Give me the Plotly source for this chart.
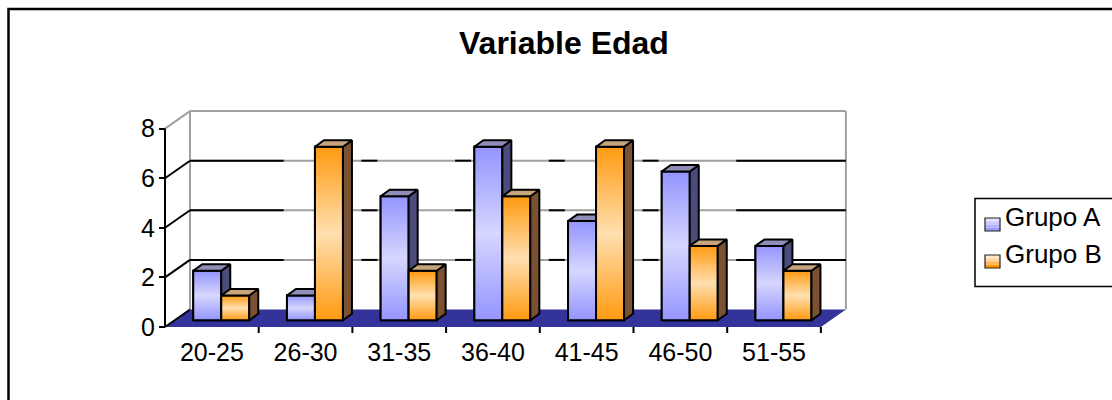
import plotly.graph_objects as go

# ---------------- data ----------------
categories = ["20-25", "26-30", "31-35", "36-40", "41-45", "46-50", "51-55"]
grupo_a = [2, 1, 5, 7, 4, 6, 3]
grupo_b = [1, 7, 2, 5, 7, 3, 2]
series_names = ["Grupo A", "Grupo B"]
y_tick_values = [0, 2, 4, 6, 8]
title_text = "Variable Edad"

# ---------------- geometry (pixels -> axis units) ----------------
W, H = 1112, 400
L, R, T, B = 150, 860, 100, 345          # plot area in pixels
X_FRONT = 165                             # front-left corner of the floor (px)
Y_ZERO = 327                              # front floor line (px)
CW = 93.7                                 # px per category
U = 24.8                                  # px per value unit
xmin = -0.5 - (X_FRONT - L) / CW
xmax = -0.5 + (R - X_FRONT) / CW
ymin = -(B - Y_ZERO) / U
ymax = (Y_ZERO - T) / U
DX, DY = 25 / CW, 17.5 / U                # wall depth
BDX, BDY = 9 / CW, 6.5 / U                # bar depth
BASE = 6.7 / U                            # bar base height (bars sit mid-depth)
SHIFT = 9.4 / CW
BW = 28 / CW
YMAX_WALL = max(y_tick_values)
n = len(categories)

FONT = "Liberation Sans, Arial, sans-serif"
COL = {
    "Grupo A": dict(bar="#A8A8FF", grad=[[0, "#9494FF"], [0.5, "#D6D6FF"], [1, "#9494FF"]],
                    side="#4B4B7C", top="#8E8EB8",
                    legend=["#E2E2FF", "#CACAFF", "#B2B2FF", "#9999FF"]),
    "Grupo B": dict(bar="#FFB040", grad=[[0, "#FF9A10"], [0.5, "#FFDFB0"], [1, "#FF9A10"]],
                    side="#7A5233", top="#C6A47C",
                    legend=["#FFE8C8", "#FFD29E", "#FFB75E", "#FF9900"]),
}


def px_x(p):
    return (p - L) / (R - L)


def px_y(p):
    return (B - p) / (B - T)


fig = go.Figure()

# solid bar traces (front faces), drawn through the axes
for name, vals, off in [("Grupo A", grupo_a, -BW + SHIFT), ("Grupo B", grupo_b, SHIFT)]:
    fig.add_trace(go.Bar(
        name=name, x=list(range(n)), y=vals, base=BASE, offset=off, width=BW,
        marker=dict(color=COL[name]["bar"], line=dict(color="black", width=2)),
        showlegend=False, hoverinfo="skip"))

# 3D faces with gradients
for i in range(n):
    for name, vals, off in [("Grupo A", grupo_a, -BW + SHIFT), ("Grupo B", grupo_b, SHIFT)]:
        v = vals[i]
        x0 = i + off
        x1 = x0 + BW
        top = BASE + v
        c = COL[name]
        # front
        fig.add_trace(go.Scatter(
            x=[x0, x1, x1, x0, x0], y=[BASE, BASE, top, top, BASE], mode="lines",
            fill="toself", fillgradient=dict(type="vertical", colorscale=c["grad"]),
            line=dict(color="black", width=2), showlegend=False, hoverinfo="skip"))
        # side
        fig.add_trace(go.Scatter(
            x=[x1, x1 + BDX, x1 + BDX, x1, x1], y=[BASE, BASE + BDY, top + BDY, top, BASE],
            mode="lines", fill="toself", fillcolor=c["side"],
            line=dict(color="black", width=2), showlegend=False, hoverinfo="skip"))
        # top
        fig.add_trace(go.Scatter(
            x=[x0, x0 + BDX, x1 + BDX, x1, x0], y=[top, top + BDY, top + BDY, top, top],
            mode="lines", fill="toself", fillcolor=c["top"],
            line=dict(color="black", width=2), showlegend=False, hoverinfo="skip"))

shapes = []
xl, xr = -0.5, n - 0.5
# floor
shapes.append(dict(type="path", xref="x", yref="y", layer="below",
                   path=f"M{xl},0 L{xr},0 L{xr+DX},{DY} L{xl+DX},{DY} Z",
                   fillcolor="#333399", line=dict(width=0)))
# back wall edges
grey = "#A0A0A0"
shapes.append(dict(type="line", xref="x", yref="y", layer="below", x0=xl + DX, x1=xl + DX,
                   y0=DY, y1=YMAX_WALL + DY, line=dict(color=grey, width=2)))
shapes.append(dict(type="line", xref="x", yref="y", layer="below", x0=xr + DX, x1=xr + DX,
                   y0=DY, y1=YMAX_WALL + DY, line=dict(color=grey, width=2)))
shapes.append(dict(type="line", xref="x", yref="y", layer="below", x0=xl + DX, x1=xr + DX,
                   y0=YMAX_WALL + DY, y1=YMAX_WALL + DY, line=dict(color=grey, width=2)))
# gridlines on back wall (grey with black segments, like the original rendering)
blk = [(-0.5, 0.5)] + [(k + 0.5 - 16 / CW, k + 0.5) for k in range(1, n - 2)] + [(n - 1.5 - 16 / CW, n - 0.5)]
for v in y_tick_values[1:-1]:
    shapes.append(dict(type="line", xref="x", yref="y", layer="below", x0=xl + DX, x1=xr + DX,
                       y0=v + DY, y1=v + DY, line=dict(color=grey, width=2)))
    for a, b in blk:
        shapes.append(dict(type="line", xref="x", yref="y", layer="below", x0=a + DX, x1=b + DX,
                           y0=v + DY, y1=v + DY, line=dict(color="black", width=2)))
# left side wall diagonals and front axis
for v in y_tick_values:
    shapes.append(dict(type="line", xref="x", yref="y", layer="below", x0=xl, x1=xl + DX,
                       y0=v, y1=v + DY,
                       line=dict(color=grey if v == YMAX_WALL else "black", width=2)))
shapes.append(dict(type="line", xref="x", yref="y", layer="below", x0=xl, x1=xl,
                   y0=0, y1=YMAX_WALL, line=dict(color="black", width=2)))
# category boundary ticks on the front edge
for k in range(1, n + 1):
    shapes.append(dict(type="line", xref="x", yref="y", x0=k - 0.5, x1=k - 0.5,
                       y0=0, y1=-6 / U, line=dict(color="black", width=2)))
# outer frame
shapes.append(dict(type="rect", xref="paper", yref="paper",
                   x0=px_x(8.5), x1=px_x(W + 20), y0=px_y(9), y1=px_y(H + 20),
                   line=dict(color="black", width=2.5), fillcolor="rgba(0,0,0,0)"))
# legend box
shapes.append(dict(type="rect", xref="paper", yref="paper",
                   x0=px_x(975), x1=px_x(W + 20), y0=px_y(198.5), y1=px_y(286.5),
                   line=dict(color="black", width=1.5), fillcolor="white"))
annotations = []
for j, name in enumerate(series_names):
    yc = 224.5 + j * 37
    stripes = COL[name]["legend"]
    sh = 13 / len(stripes)
    for s, colr in enumerate(stripes):
        shapes.append(dict(type="rect", xref="paper", yref="paper",
                           x0=px_x(985), x1=px_x(1000),
                           y0=px_y(yc - 6.5 + s * sh), y1=px_y(yc - 6.5 + (s + 1) * sh),
                           line=dict(width=0), fillcolor=colr))
    shapes.append(dict(type="rect", xref="paper", yref="paper",
                       x0=px_x(985), x1=px_x(1000), y0=px_y(yc - 6.5), y1=px_y(yc + 6.5),
                       line=dict(color="#222222", width=1.2), fillcolor="rgba(0,0,0,0)"))
    annotations.append(dict(xref="paper", yref="paper", x=px_x(1003), y=px_y(yc - 7.5),
                            xanchor="left", yanchor="middle", showarrow=False, text=name,
                            font=dict(family=FONT, size=26, color="black")))

annotations.append(dict(xref="paper", yref="paper", x=px_x(564), y=px_y(43),
                        xanchor="center", yanchor="middle", showarrow=False,
                        text=f"<b>{title_text}</b>",
                        font=dict(family=FONT, size=32, color="black")))

fig.update_layout(
    width=W, height=H, autosize=False,
    margin=dict(l=L, r=W - R, t=T, b=H - B, pad=0),
    paper_bgcolor="white", plot_bgcolor="white",
    barmode="overlay", showlegend=False,
    shapes=shapes, annotations=annotations,
    xaxis=dict(range=[xmin, xmax], tickvals=list(range(n)), ticktext=categories,
               showgrid=False, zeroline=False, showline=False, ticks="",
               anchor="free", position=px_y(Y_ZERO), ticklabelstandoff=8,
               tickfont=dict(family=FONT, size=25, color="black"), fixedrange=True),
    yaxis=dict(range=[ymin, ymax], tickvals=y_tick_values, showgrid=False, zeroline=False,
               showline=False, ticks="outside", ticklen=6, tickwidth=2, tickcolor="black",
               anchor="free", position=px_x(X_FRONT), ticklabelstandoff=-1,
               tickfont=dict(family=FONT, size=25, color="black"), fixedrange=True),
)

fig.write_html("out.html")
